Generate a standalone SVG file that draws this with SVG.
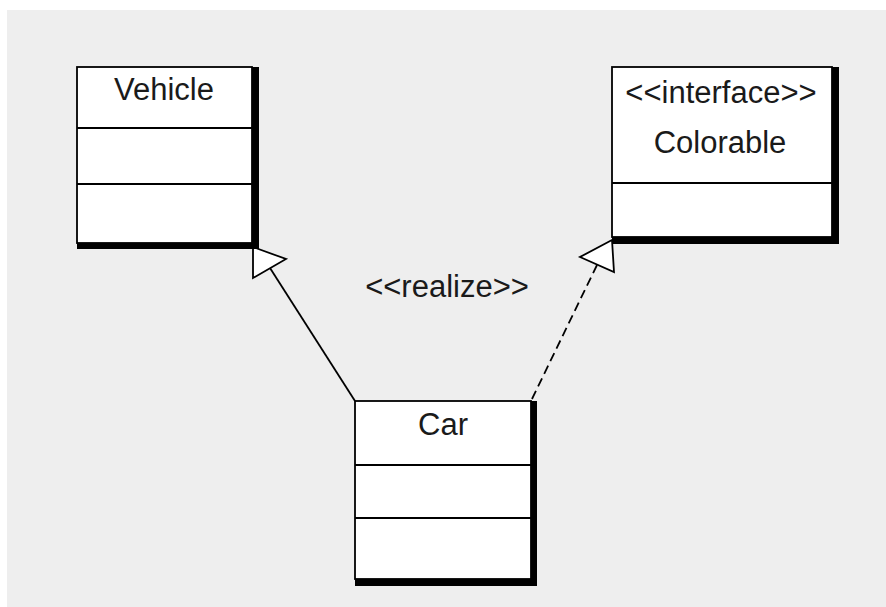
<svg xmlns="http://www.w3.org/2000/svg" width="886" height="607" viewBox="0 0 886 607">
<style>
.shadow{fill:#000}
.box{fill:#fff;stroke:#000;stroke-width:1.8}
.div{stroke:#000;stroke-width:1.8}
.t{font-family:"Liberation Sans",Arial,sans-serif;font-size:31px;fill:#1a1a1a;text-anchor:middle}
.edge{fill:none;stroke:#000;stroke-width:1.8}
.dash{stroke-dasharray:9,5}
.head{fill:#fff;stroke:#000;stroke-width:1.8;stroke-linejoin:miter}
</style>
<rect x="0" y="0" width="886" height="607" fill="#fff"/>
<rect x="7" y="10" width="879" height="597" fill="#eeeeee"/>
<g id="connectors">
<line class="edge" x1="355" y1="401" x2="270" y2="268"/>
<polygon class="head" points="253,247 286,259 253,278"/>
<line class="edge dash" x1="532" y1="399" x2="597" y2="265"/>
<polygon class="head" points="612,240 580,257 614,272"/>
<text class="t" x="447" y="297">&lt;&lt;realize&gt;&gt;</text>
</g>
<g id="vehicle">
<rect class="shadow" x="77" y="67" width="182" height="182"/>
<rect class="box" x="77" y="67" width="175" height="176"/>
<line class="div" x1="77" y1="128" x2="252" y2="128"/>
<line class="div" x1="77" y1="184" x2="252" y2="184"/>
<text class="t" x="164" y="100">Vehicle</text>
</g>
<g id="colorable">
<rect class="shadow" x="612" y="67" width="227" height="177"/>
<rect class="box" x="612" y="67" width="220" height="170"/>
<line class="div" x1="612" y1="183" x2="832" y2="183"/>
<text class="t" x="721" y="103">&lt;&lt;interface&gt;&gt;</text>
<text class="t" x="720" y="153">Colorable</text>
</g>
<g id="car">
<rect class="shadow" x="355" y="401" width="182" height="185"/>
<rect class="box" x="355" y="401" width="176" height="178"/>
<line class="div" x1="355" y1="465" x2="531" y2="465"/>
<line class="div" x1="355" y1="518" x2="531" y2="518"/>
<text class="t" x="443" y="435">Car</text>
</g>
</svg>
